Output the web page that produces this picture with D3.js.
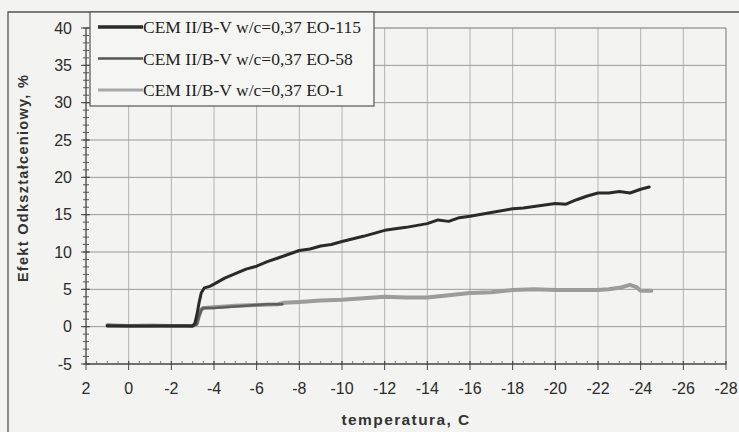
<!DOCTYPE html>
<html>
<head>
<meta charset="utf-8">
<script src="https://cdn.jsdelivr.net/npm/d3@7"></script>
<style>
    body { margin: 0; background: #f3f3f1; }
    svg { display: block; }
</style>
</head>
<body>
<svg id="chart"></svg>
<script>
const xTicks = [2, 0, -2, -4, -6, -8, -10, -12, -14, -16, -18, -20, -22, -24, -26, -28];
const yTicks = [-5, 0, 5, 10, 15, 20, 25, 30, 35, 40];

const seriesNames = ["CEM II/B-V w/c=0,37 EO-115", "CEM II/B-V w/c=0,37 EO-58", "CEM II/B-V w/c=0,37 EO-1"];

const tempEO115 = [1.0, 0, -1, -2, -3, -3.1, -3.2, -3.3, -3.4, -3.55, -3.8, -4, -4.5, -5, -5.5, -6, -6.5, -7, -7.5, -8, -8.5, -9, -9.5, -10, -11, -12, -13, -14, -14.5, -15, -15.5, -16, -17, -18, -18.5, -19, -19.5, -20, -20.5, -21, -21.5, -22, -22.5, -23, -23.5, -24, -24.4];
const valEO115 = [0.1, 0.1, 0.1, 0.1, 0.1, 0.4, 1.6, 3.2, 4.5, 5.2, 5.4, 5.7, 6.5, 7.1, 7.7, 8.1, 8.7, 9.2, 9.7, 10.2, 10.4, 10.8, 11.0, 11.4, 12.1, 12.9, 13.3, 13.8, 14.3, 14.1, 14.6, 14.8, 15.3, 15.8, 15.9, 16.1, 16.3, 16.5, 16.4, 17.0, 17.5, 17.9, 17.9, 18.1, 17.9, 18.4, 18.7];

const tempEO58 = [1.0, 0, -1, -2, -3, -3.2, -3.3, -3.4, -3.5, -4, -4.5, -5, -5.5, -6, -6.5, -7, -7.2];
const valEO58 = [0.2, 0.1, 0.1, 0.15, 0.1, 0.3, 1.4, 2.2, 2.5, 2.5, 2.6, 2.7, 2.8, 2.9, 3.0, 3.0, 3.0];

const tempEO1 = [1.0, 0, -1, -2, -3, -3.2, -3.3, -3.4, -3.5, -4, -5, -6, -7, -7.3, -8, -9, -10, -11, -12, -13, -14, -15, -16, -17, -18, -19, -20, -21, -22, -22.5, -23, -23.5, -23.8, -24, -24.5];
const valEO1 = [0.2, 0.1, 0.15, 0.1, 0.1, 0.5, 1.5, 2.3, 2.5, 2.6, 2.8, 2.9, 3.0, 3.2, 3.3, 3.5, 3.6, 3.8, 4.0, 3.9, 3.9, 4.2, 4.5, 4.6, 4.9, 5.0, 4.9, 4.9, 4.9, 5.0, 5.2, 5.6, 5.3, 4.8, 4.8];

const width = 739;
const height = 432;
const margin = { top: 28, right: 13, bottom: 68, left: 86 };

const svg = d3.select("#chart")
    .attr("width", width)
    .attr("height", height);

const x = d3.scaleLinear().domain([2, -28]).range([margin.left, width - margin.right]);
const y = d3.scaleLinear().domain([-5, 40]).range([height - margin.bottom, margin.top]);

const sans = "Liberation Sans, Arial, sans-serif";

// outer frame of the scanned figure
svg.append("path")
    .attr("d", `M8,${height} V12 H${width}`)
    .attr("fill", "none")
    .attr("stroke", "#555")
    .attr("stroke-width", 1.3);

// grid
svg.append("g")
    .selectAll("line")
    .data(xTicks.slice(1))
    .join("line")
    .attr("x1", d => x(d)).attr("x2", d => x(d))
    .attr("y1", y(-5)).attr("y2", y(40))
    .attr("stroke", d => d === -28 ? "#777" : "#b4b4b4")
    .attr("stroke-width", 1);

svg.append("g")
    .selectAll("line")
    .data(yTicks.slice(1))
    .join("line")
    .attr("x1", x(2)).attr("x2", x(-28))
    .attr("y1", d => y(d)).attr("y2", d => y(d))
    .attr("stroke", d => d === 40 ? "#777" : "#9a9a9a")
    .attr("stroke-width", 1);

// y axis with minor ticks
const yAxis = svg.append("g").attr("transform", `translate(${x(2)},0)`);
yAxis.append("line")
    .attr("y1", y(-5)).attr("y2", y(40))
    .attr("stroke", "#444").attr("stroke-width", 1.3);
yAxis.selectAll(".minor")
    .data(d3.range(-5, 40.5, 1))
    .join("line")
    .attr("class", "minor")
    .attr("x1", -3).attr("x2", 3)
    .attr("y1", d => y(d)).attr("y2", d => y(d))
    .attr("stroke", "#555");
yAxis.selectAll(".major")
    .data(yTicks)
    .join("line")
    .attr("class", "major")
    .attr("x1", -5).attr("x2", 4)
    .attr("y1", d => y(d)).attr("y2", d => y(d))
    .attr("stroke", "#444");
yAxis.selectAll("text")
    .data(yTicks)
    .join("text")
    .attr("x", -14)
    .attr("y", d => y(d))
    .attr("dy", "0.36em")
    .attr("text-anchor", "end")
    .attr("font-family", sans)
    .attr("font-size", 16)
    .attr("fill", "#2b2b2b")
    .text(d => d);

// x axis at -5
const xAxis = svg.append("g").attr("transform", `translate(0,${y(-5)})`);
xAxis.append("line")
    .attr("x1", x(2)).attr("x2", x(-28))
    .attr("stroke", "#444").attr("stroke-width", 1.5);
xAxis.selectAll(".minor")
    .data(d3.range(2, -28.1, -0.5))
    .join("line")
    .attr("class", "minor")
    .attr("x1", d => x(d)).attr("x2", d => x(d))
    .attr("y1", -3).attr("y2", 0)
    .attr("stroke", "#777");
xAxis.selectAll(".major")
    .data(xTicks)
    .join("line")
    .attr("class", "major")
    .attr("x1", d => x(d)).attr("x2", d => x(d))
    .attr("y1", -3).attr("y2", 6)
    .attr("stroke", "#444");
xAxis.selectAll("text")
    .data(xTicks)
    .join("text")
    .attr("x", d => x(d))
    .attr("y", 30)
    .attr("text-anchor", "middle")
    .attr("font-family", sans)
    .attr("font-size", 16)
    .attr("fill", "#2b2b2b")
    .text(d => d);

// axis titles
svg.append("text")
    .attr("transform", "translate(28,178) rotate(-90)")
    .attr("text-anchor", "middle")
    .attr("font-family", sans)
    .attr("font-weight", "bold")
    .attr("font-size", 14.5)
    .attr("letter-spacing", 1.3)
    .attr("fill", "#333")
    .text("Efekt Odkształceniowy, %");

svg.append("text")
    .attr("x", 406)
    .attr("y", 425)
    .attr("text-anchor", "middle")
    .attr("font-family", sans)
    .attr("font-weight", "bold")
    .attr("font-size", 15.5)
    .attr("letter-spacing", 1.4)
    .attr("fill", "#333")
    .text("temperatura, C");

// series
const line = d3.line()
    .x(d => x(d[0]))
    .y(d => y(d[1]));

const series = [
    { pts: d3.zip(tempEO1, valEO1), color: "#9c9c9c", width: 4 },
    { pts: d3.zip(tempEO58, valEO58), color: "#5e5e5e", width: 2.6 },
    { pts: d3.zip(tempEO115, valEO115), color: "#2a2a2a", width: 3 }
];

svg.append("g")
    .selectAll("path")
    .data(series)
    .join("path")
    .attr("d", d => line(d.pts))
    .attr("fill", "none")
    .attr("stroke", d => d.color)
    .attr("stroke-width", d => d.width)
    .attr("stroke-linejoin", "round")
    .attr("stroke-linecap", "round");

// legend
const legend = svg.append("g").attr("transform", "translate(90,12)");
legend.append("rect")
    .attr("width", 284).attr("height", 94)
    .attr("fill", "#f5f5f3")
    .attr("stroke", "#555")
    .attr("stroke-width", 1.2);

const legendColors = ["#2a2a2a", "#555", "#a8a8a8"];
const legendWidths = [3.5, 2.5, 3];
const row = legend.selectAll(".item")
    .data(seriesNames)
    .join("g")
    .attr("class", "item")
    .attr("transform", (d, i) => `translate(0,${15 + i * 31.5})`);
row.append("line")
    .attr("x1", 8).attr("x2", 53)
    .attr("stroke", (d, i) => legendColors[i])
    .attr("stroke-width", (d, i) => legendWidths[i]);
row.append("text")
    .attr("x", 53)
    .attr("dy", "0.35em")
    .attr("font-family", "Liberation Serif, Times New Roman, serif")
    .attr("font-size", 17.5)
    .attr("fill", "#1e1e1e")
    .text(d => d);
</script>
</body>
</html>
